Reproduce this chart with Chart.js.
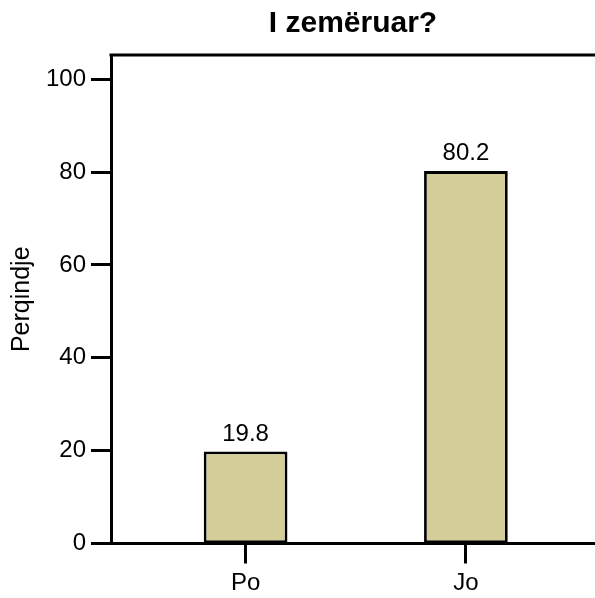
<!DOCTYPE html>
<html>
<head>
<meta charset="utf-8">
<script src="https://cdn.jsdelivr.net/npm/chart.js@4.4.1/dist/chart.umd.min.js"></script>
<style>
  html, body { margin: 0; padding: 0; background: #fff; }
  #wrap { width: 595px; height: 598px; position: relative; }
</style>
</head>
<body>
<div id="wrap"><canvas id="chart"></canvas></div>
<script>
// data
const categories = ['Po', 'Jo'];
const percents = [19.8, 80.2];
const yTicks = [0, 20, 40, 60, 80, 100];
const chartTitle = 'I zemëruar?';
const yTitle = 'Perqindje';

const FONT = '"Liberation Sans", Arial, Helvetica, sans-serif';
const BAR_FILL = '#d3ce99';

// bars go on a numeric axis so the category spacing can match the original
const points = percents.map((v, i) => ({ x: i, y: v }));

// title over the plot area, top frame line, value labels above bars
const framePlugin = {
    id: 'frame',
    afterDatasetsDraw(chart) {
        const { ctx, chartArea } = chart;
        ctx.save();
        ctx.strokeStyle = '#000';
        ctx.lineWidth = 3;
        ctx.beginPath();
        ctx.moveTo(chartArea.left - 1.5, chartArea.top);
        ctx.lineTo(chartArea.right, chartArea.top);
        ctx.stroke();

        ctx.fillStyle = '#000';
        ctx.textAlign = 'center';
        ctx.textBaseline = 'alphabetic';
        ctx.font = 'bold 30px ' + FONT;
        ctx.fillText(chartTitle, (chartArea.left + chartArea.right) / 2, chartArea.top - 23);

        ctx.font = '24px ' + FONT;
        chart.getDatasetMeta(0).data.forEach((bar, i) => {
            ctx.fillText(percents[i].toFixed(1), bar.x, bar.y - 11);
        });
        ctx.restore();
    }
};

const ctx = document.getElementById('chart').getContext('2d');
new Chart(ctx, {
    type: 'bar',
    data: {
        datasets: [{
            data: points,
            backgroundColor: BAR_FILL,
            borderColor: '#000',
            borderWidth: 2.8,
            borderSkipped: false,
            barPercentage: 1,
            categoryPercentage: 0.38
        }]
    },
    options: {
        responsive: true,
        maintainAspectRatio: false,
        animation: false,
        layout: { padding: { top: 55, left: 0, right: 0, bottom: 0 } },
        plugins: {
            legend: { display: false },
            tooltip: { enabled: false },
            title: { display: false }
        },
        scales: {
            x: {
                type: 'linear',
                offset: false,
                min: -0.611,
                max: 1.586,
                afterBuildTicks: s => { s.ticks = categories.map((_, i) => ({ value: i })); },
                afterFit: s => { s.height = 54.5; },
                ticks: {
                    color: '#000',
                    font: { family: FONT, size: 24 },
                    padding: 5,
                    maxRotation: 0,
                    callback: v => categories[v]
                },
                grid: {
                    display: true,
                    offset: false,
                    drawOnChartArea: false,
                    drawTicks: true,
                    tickLength: 20,
                    tickWidth: 3,
                    tickColor: '#000'
                },
                border: { display: true, color: '#000', width: 3 }
            },
            y: {
                min: 0,
                max: 105.2,
                afterBuildTicks: s => { s.ticks = yTicks.map(v => ({ value: v })); },
                afterFit: s => { s.width = 111; },
                ticks: {
                    color: '#000',
                    font: { family: FONT, size: 24 },
                    padding: 5
                },
                grid: {
                    display: true,
                    drawOnChartArea: false,
                    drawTicks: true,
                    tickLength: 20,
                    tickWidth: 3,
                    tickColor: '#000'
                },
                border: { display: true, color: '#000', width: 3 },
                title: {
                    display: true,
                    text: yTitle,
                    color: '#000',
                    font: { family: FONT, size: 25 },
                    padding: { top: 7, bottom: 0 }
                }
            }
        }
    },
    plugins: [framePlugin]
});
</script>
</body>
</html>
